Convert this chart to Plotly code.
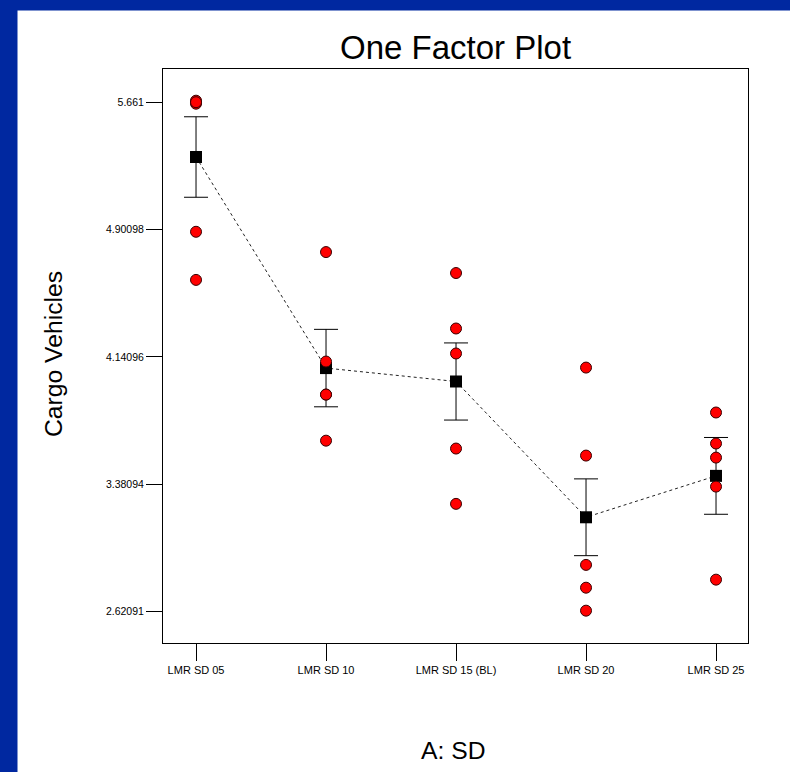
import plotly.graph_objects as go

categories = ["LMR SD 05", "LMR SD 10", "LMR SD 15 (BL)", "LMR SD 20", "LMR SD 25"]

# observed design points (Cargo Vehicles) per level
obs_sd05 = [5.669, 5.651, 5.660, 4.887, 4.600]
obs_sd10 = [4.766, 4.113, 3.916, 3.641, 3.916]
obs_sd15 = [4.641, 4.310, 4.161, 3.594, 3.264]
obs_sd20 = [4.077, 3.552, 2.900, 2.764, 2.627]
obs_sd25 = [3.809, 3.624, 3.540, 3.367, 2.812]

# predicted means and LSD half-widths
means = [5.333, 4.074, 3.994, 3.184, 3.431]
err_half = [0.240, 0.231, 0.230, 0.229, 0.229]

y_tickvals = [2.62091, 3.38094, 4.14096, 4.90098, 5.661]
y_ticktext = ["2.62091", "3.38094", "4.14096", "4.90098", "5.661"]

obs_groups = [obs_sd05, obs_sd10, obs_sd15, obs_sd20, obs_sd25]
obs_x = []
obs_y = []
for cat, vals in zip(categories, obs_groups):
    for v in vals:
        obs_x.append(cat)
        obs_y.append(v)

fig = go.Figure()

fig.add_trace(go.Scatter(
    x=categories, y=means, mode="lines",
    line=dict(color="#222222", width=1, dash="3px,3px"),
    hoverinfo="skip", showlegend=False,
))
fig.add_trace(go.Scatter(
    x=categories, y=means, mode="markers",
    marker=dict(symbol="square", size=12, color="black"),
    error_y=dict(type="data", array=err_half, visible=True,
                 color="black", thickness=1, width=12),
    showlegend=False,
))
fig.add_trace(go.Scatter(
    x=obs_x, y=obs_y, mode="markers",
    marker=dict(symbol="circle", size=11, color="#FF0000",
                line=dict(color="#3a0000", width=1)),
    showlegend=False,
))

blue = "#0028A0"
L, R, T, B = 163, 42, 69, 129
W, H = 790, 772
pw = W - L - R
ph = H - T - B

def px_x(p):
    return (p - L) / pw

def px_y(p):
    return (H - B - p) / ph

fig.update_layout(
    width=W, height=H,
    margin=dict(l=L, r=R, t=T, b=B, pad=0),
    paper_bgcolor="white", plot_bgcolor="white",
    font=dict(family="Liberation Sans, Arial, sans-serif", color="black"),
    shapes=[
        dict(type="rect", xref="paper", yref="paper",
             x0=px_x(0), x1=px_x(W + 5), y0=px_y(10.5), y1=px_y(-5),
             fillcolor=blue, line=dict(width=0), layer="above"),
        dict(type="rect", xref="paper", yref="paper",
             x0=px_x(-5), x1=px_x(17.5), y0=px_y(H + 5), y1=px_y(-5),
             fillcolor=blue, line=dict(width=0), layer="above"),
    ],
    annotations=[
        dict(text="One Factor Plot", xref="paper", yref="paper",
             x=0.5, y=px_y(48), xanchor="center", yanchor="middle",
             showarrow=False, font=dict(size=33, color="black")),
        dict(text="A: SD", xref="paper", yref="paper",
             x=px_x(453), y=px_y(750), xanchor="center", yanchor="middle",
             showarrow=False, font=dict(size=24.7, color="black")),
        dict(text="Cargo Vehicles", xref="paper", yref="paper",
             x=px_x(53), y=px_y(354), xanchor="center", yanchor="middle",
             textangle=-90, showarrow=False, font=dict(size=24.7, color="black")),
    ],
)

fig.update_xaxes(
    type="category", categoryorder="array", categoryarray=categories,
    range=[-0.254, 4.246],
    showline=True, linecolor="black", linewidth=1, mirror=True,
    ticks="outside", ticklen=17, tickcolor="black", tickwidth=1,
    showgrid=False, zeroline=False,
    tickfont=dict(size=11, color="black"),
)
fig.update_yaxes(
    range=[2.4341, 5.858],
    tickvals=y_tickvals, ticktext=y_ticktext,
    showline=True, linecolor="black", linewidth=1, mirror=True,
    ticks="outside", ticklen=16, tickcolor="black", tickwidth=1,
    showgrid=False, zeroline=False,
    tickfont=dict(size=10.5, color="black"),
)

fig.write_html(
    "out.html",
    config={"displayModeBar": False},
    post_script="document.body.style.margin='0';document.body.style.overflow='hidden';",
)
